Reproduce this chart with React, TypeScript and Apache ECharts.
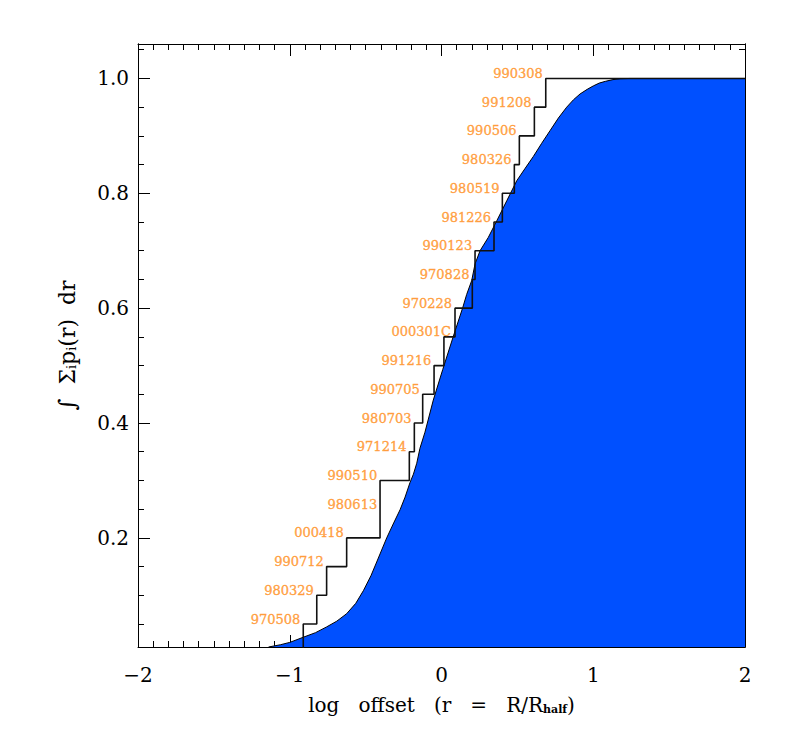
import React, { useEffect, useRef } from 'react';
import * as echarts from 'echarts';

// GRB labels, each one sits on the step it adds
const grbNames = ['970508', '980329', '990712', '000418', '980613', '990510', '971214', '980703', '990705', '991216', '000301C', '970228', '970828', '990123', '981226', '980519', '980326', '990506', '991208', '990308'];
// log offset where the cumulative step rises
const stepOffsets = [-0.911, -0.822, -0.757, -0.625, -0.405, -0.405, -0.212, -0.179, -0.124, -0.049, 0.016, 0.089, 0.203, 0.221, 0.346, 0.401, 0.48, 0.513, 0.612, 0.687];
// cumulative level reached at each step
const stepLevels = [0.05, 0.1, 0.15, 0.2, 0.25, 0.3, 0.35, 0.4, 0.45, 0.5, 0.55, 0.6, 0.65, 0.7, 0.75, 0.8, 0.85, 0.9, 0.95, 1.0];

// cumulative summed probability curve
const curveX = [-1.14, -1.06, -1.0, -0.911, -0.83, -0.757, -0.69, -0.625, -0.565, -0.515, -0.465, -0.427, -0.361, -0.315, -0.273, -0.24, -0.208, -0.185, -0.163, -0.142, -0.109, -0.054, 0.008, 0.078, 0.14, 0.166, 0.199, 0.221, 0.254, 0.308, 0.364, 0.43, 0.496, 0.55, 0.605, 0.66, 0.715, 0.77, 0.825, 0.87, 0.913, 0.96, 1.0, 1.04, 1.08, 1.13, 1.18, 1.24, 1.3, 2.0];
const curveY = [0.01, 0.014, 0.018, 0.027, 0.035, 0.045, 0.055, 0.068, 0.086, 0.108, 0.134, 0.158, 0.2, 0.226, 0.249, 0.271, 0.296, 0.311, 0.33, 0.356, 0.384, 0.44, 0.493, 0.551, 0.601, 0.624, 0.648, 0.677, 0.7, 0.723, 0.752, 0.787, 0.822, 0.843, 0.864, 0.887, 0.909, 0.931, 0.95, 0.963, 0.973, 0.981, 0.987, 0.992, 0.995, 0.998, 0.9995, 1.0, 1.0, 1.0];

// axis ticks
const yMajorTicks = [0.2, 0.4, 0.6, 0.8, 1.0];
const yMinorTicks = [0.05, 0.1, 0.15, 0.2, 0.25, 0.3, 0.35, 0.4, 0.45, 0.5, 0.55, 0.6, 0.65, 0.7, 0.75, 0.8, 0.85, 0.9, 0.95, 1.0, 1.05];
const xRange = [-2, 2];
const yRange = [0.01, 1.06];

const FONT = 'DejaVu Serif';
const BLUE = '#0050ff';
const ORANGE = '#ff9022';

export default function App() {
  const ref = useRef<HTMLDivElement>(null);
  useEffect(() => {
    if (!ref.current) return;
    const chart = echarts.init(ref.current, null, { renderer: 'svg' });

    const axisLine = { show: true, onZero: false, lineStyle: { color: '#000', width: 1 } };
    const xAxisBase = (pos: 'bottom' | 'top', labels: boolean) => ({
      type: 'value',
      position: pos,
      min: xRange[0],
      max: xRange[1],
      interval: 1,
      axisLine,
      axisTick: { show: true, inside: true, length: 12, lineStyle: { color: '#000', width: 1 } },
      minorTick: { show: true, splitNumber: 10, length: 6, lineStyle: { color: '#000', width: 1 } },
      splitLine: { show: false },
      minorSplitLine: { show: false },
      axisLabel: {
        show: labels,
        margin: 18,
        fontSize: 20,
        fontFamily: FONT,
        color: '#000',
        formatter: (v: number) => (v < 0 ? '\u2212' + Math.abs(v) : String(v)),
      },
    });
    const yAxisBase = (pos: 'left' | 'right', major: boolean, labels: boolean) => ({
      type: 'value',
      position: pos,
      min: yRange[0],
      max: yRange[1],
      axisLine,
      axisTick: {
        show: true,
        inside: true,
        length: major ? 12 : 6,
        customValues: major ? yMajorTicks : yMinorTicks,
        lineStyle: { color: '#000', width: 1 },
      },
      splitLine: { show: false },
      axisLabel: {
        show: labels,
        customValues: yMajorTicks,
        margin: 9,
        fontSize: 20,
        fontFamily: FONT,
        color: '#000',
        formatter: (v: number) => v.toFixed(1),
      },
    });

    const stepData: number[][] = [[stepOffsets[0], 0]];
    stepOffsets.forEach((x, i) => stepData.push([x, stepLevels[i]]));
    stepData.push([xRange[1], stepLevels[stepLevels.length - 1]]);

    chart.setOption({
      animation: false,
      grid: { left: 138, right: 41, top: 44, bottom: 87 },
      xAxis: [
        {
          ...xAxisBase('bottom', true),
          name: '{t|log   offset   (r   =   R/R}{s|half}{t|)}',
          nameLocation: 'middle',
          nameGap: 46,
          nameTextStyle: {
            rich: {
              t: { fontSize: 20, fontFamily: FONT, color: '#000', lineHeight: 22, verticalAlign: 'bottom' },
              s: { fontSize: 11, fontWeight: 'bold', fontFamily: FONT, color: '#000', lineHeight: 12, verticalAlign: 'bottom' },
            },
          },
        },
        xAxisBase('top', false),
      ],
      yAxis: [
        {
          ...yAxisBase('left', true, true),
          name: '{b|\u222B}{t|  \u03A3}{s|i}{t|p}{s|i}{t|(r)  dr}',
          nameLocation: 'middle',
          nameRotate: 90,
          nameGap: 60,
          nameTextStyle: {
            rich: {
              b: { fontSize: 23, fontFamily: FONT, color: '#000', lineHeight: 24, verticalAlign: 'bottom', fontStyle: 'italic' },
              t: { fontSize: 22, fontFamily: FONT, color: '#000', lineHeight: 24, verticalAlign: 'bottom' },
              s: { fontSize: 13, fontFamily: FONT, color: '#000', lineHeight: 4, verticalAlign: 'bottom' },
            },
          },
        },
        yAxisBase('left', false, false),
        yAxisBase('right', true, false),
        yAxisBase('right', false, false),
      ],
      series: [
        {
          type: 'line',
          xAxisIndex: 0,
          yAxisIndex: 0,
          data: curveX.map((x, i) => [x, curveY[i]]),
          smooth: false,
          symbol: 'none',
          lineStyle: { color: '#000', width: 1 },
          areaStyle: { color: BLUE, opacity: 1, origin: 'start' },
          silent: true,
          z: 2,
        },
        {
          type: 'line',
          xAxisIndex: 0,
          yAxisIndex: 0,
          step: 'end',
          data: stepData,
          symbol: 'none',
          lineStyle: { color: '#111', width: 1.6 },
          silent: true,
          z: 3,
        },
        {
          type: 'scatter',
          xAxisIndex: 0,
          yAxisIndex: 0,
          symbolSize: 0,
          silent: true,
          z: 4,
          data: stepOffsets.map((x, i) => ({ name: grbNames[i], value: [x, stepLevels[i]] })),
          label: {
            show: true,
            position: [-52.5, -5],
            align: 'left',
            verticalAlign: 'middle',
            formatter: '{b}',
            fontSize: 13,
            fontFamily: FONT,
            color: ORANGE,
            textBorderColor: ORANGE,
            textBorderWidth: 0.4,
          },
        },
      ],
    });
    return () => chart.dispose();
  }, []);
  return <div ref={ref} style={{ position: 'absolute', left: 0, top: 0, width: 786, height: 734, background: '#fff' }} />;
}
